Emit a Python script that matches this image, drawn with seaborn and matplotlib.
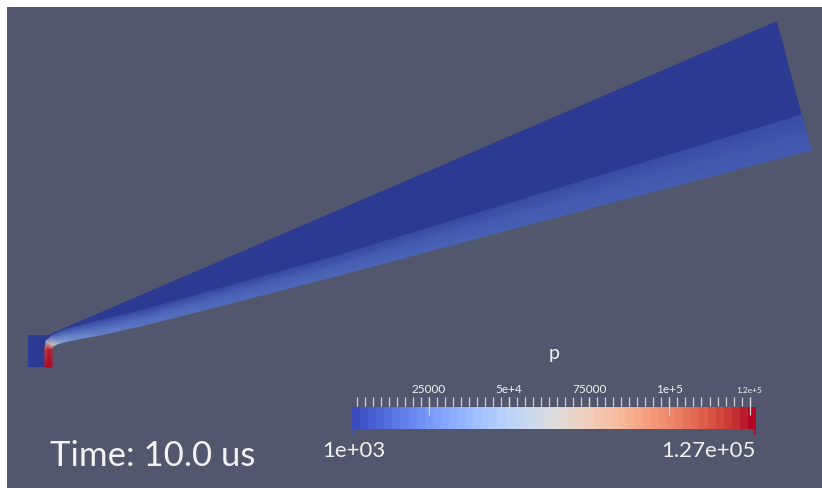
import numpy as np
import matplotlib
matplotlib.use("Agg")
import matplotlib.pyplot as plt
from matplotlib.colors import ListedColormap
from matplotlib.patches import Polygon, Rectangle
import seaborn as sns

sns.set_theme(style="white")
plt.rcParams['font.family'] = ['Lato', 'DejaVu Sans']

# ---- pressure range of the colour map ----
P_MIN, P_MAX = 1.0e3, 1.27e5
TIME_LABEL = "Time: 10.0 us"
FIELD_NAME = "p"

# ---- chamber and expansion wedge (screen units, y grows downward) ----
chamber_x = [28, 48]
chamber_y = [335, 367]
wedge_tip_x = [777, 811]
wedge_tip_y = [21, 150]
p_ambient = 1000.0

# ---- jet layer: stations along the jet, lower / upper edge of the layer ----
jet_lower_x = [52, 52, 53, 60, 73, 100, 140, 200, 340, 560, 811]
jet_lower_y = [367, 349, 346, 343, 340, 335, 326, 311, 275, 216, 150]
jet_upper_x = [45, 45, 46, 53, 67, 98, 140, 200, 340, 560, 802]
jet_upper_y = [367, 349, 341, 335, 329, 321, 311, 294, 255, 188, 115]

# pressure at lower edge, centre and upper edge of each station
p_jet_lower = [126000, 122000, 62000, 42000, 34000, 28000, 23000, 20000, 17000, 14500, 12500]
p_jet_mid = [127000, 124000, 75000, 32000, 25000, 20000, 17500, 16000, 14000, 12500, 11000]
p_jet_upper = [125000, 114000, 42000, 14000, 9000, 7000, 6500, 6500, 6500, 7000, 8000]

# ---- colour bar ticks ----
major_ticks = [25000, 50000, 75000, 100000, 125000]
major_labels = ["25000", "5e+4", "75000", "1e+5", "1.2e+5"]
minor_ticks = [2500 * k for k in range(1, 51)]
range_labels = ["1e+03", "1.27e+05"]

BG = (0.32, 0.34, 0.43)
TXT = "#f2f2f2"
SHADE = 0.76

base = plt.get_cmap("coolwarm")
lit = base(np.linspace(0, 1, 256))[:, :3]
# surfaces are lit: dim the blue end, keep the hot end brighter
lit = lit * np.linspace(SHADE, 0.95, 256)[:, None]
lit_cmap = ListedColormap(lit)

W, H = 822, 488
fig = plt.figure(figsize=(W / 100, H / 100), dpi=100)
fig.patch.set_facecolor("white")

# ---- render view ----
ax = fig.add_axes([7 / W, 0, (W - 7) / W, (H - 7) / H])
ax.set_xlim(7, W)
ax.set_ylim(H, 7)
ax.set_axis_off()
ax.add_patch(Rectangle((7, 7), W - 7, H - 7, facecolor=BG, edgecolor="none", zorder=0))

# domain: chamber block, upper wall of the wedge, outlet, then the jet's lower edge back
dom_x = [chamber_x[0], chamber_x[1], wedge_tip_x[0], wedge_tip_x[1]] + jet_lower_x[::-1] + [chamber_x[0]]
dom_y = [chamber_y[0], chamber_y[0], wedge_tip_y[0], wedge_tip_y[1]] + jet_lower_y[::-1] + [chamber_y[1]]
norm = plt.Normalize(P_MIN, P_MAX)
ax.add_patch(Polygon(np.column_stack([dom_x, dom_y]), closed=True,
                     facecolor=lit_cmap(norm(p_ambient)), edgecolor="none", zorder=1))

lx, ly = np.array(jet_lower_x, float), np.array(jet_lower_y, float)
ux, uy = np.array(jet_upper_x, float), np.array(jet_upper_y, float)
X = np.column_stack([lx, (lx + ux) / 2, ux])
Y = np.column_stack([ly, (ly + uy) / 2, uy])
P = np.column_stack([p_jet_lower, p_jet_mid, p_jet_upper])
ax.pcolormesh(X, Y, P, shading="gouraud", cmap=lit_cmap, vmin=P_MIN, vmax=P_MAX,
              zorder=2, rasterized=True, antialiased=True)

ax.text(50, 466, TIME_LABEL, color=TXT, fontsize=25, ha="left", va="baseline")
ax.text(554, 359, FIELD_NAME, color=TXT, fontsize=14, ha="center", va="baseline")
ax.text(322, 457, range_labels[0], color=TXT, fontsize=16, ha="left", va="baseline")
ax.text(756, 457, range_labels[1], color=TXT, fontsize=16, ha="right", va="baseline")

# ---- colour bar ----
bx0, bx1, by0, by1 = 352, 756, 407, 429
cax = fig.add_axes([bx0 / W, (H - by1) / H, (bx1 - bx0) / W, (by1 - by0) / H])
ramp = np.linspace(P_MIN, P_MAX, 50)[None, :]
sns.heatmap(ramp, ax=cax, cmap="coolwarm", vmin=P_MIN, vmax=P_MAX, cbar=False,
            xticklabels=False, yticklabels=False)
cax.set_axis_off()

# tick layer sharing the pressure scale of the bar
ty0, ty1 = 396, 437
tax = fig.add_axes([bx0 / W, (H - ty1) / H, (bx1 - bx0) / W, (ty1 - ty0) / H])
tax.set_xlim(P_MIN, P_MAX)
tax.set_ylim(ty1, ty0)
tax.set_facecolor("none")
tax.set_axis_off()
tax.vlines(minor_ticks, 397, 406, color="#d0d0d0", lw=0.9)
tax.vlines(major_ticks, 397, 415, color="#d8d8d8", lw=0.9)
tax.vlines([P_MIN + 300], 429, 435, color=base(0.0), lw=1.2)
tax.vlines([P_MAX - 300], 429, 435, color=base(1.0), lw=1.2)

for v, lab in zip(major_ticks, major_labels):
    fs = 6 if lab == "1.2e+5" else 8.5
    tax.text(v, 393, lab, color=TXT, fontsize=fs, ha="center", va="baseline",
             clip_on=False)

fig.savefig("out.png", dpi=100, facecolor="white")
